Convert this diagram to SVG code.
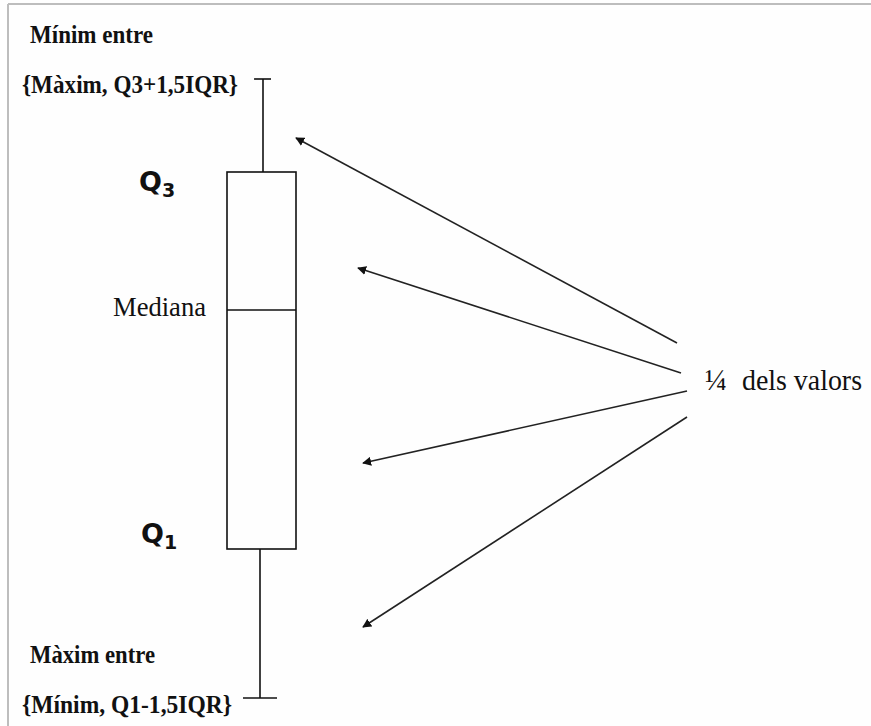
<svg xmlns="http://www.w3.org/2000/svg" width="871" height="726" viewBox="0 0 871 726">
  <style>
    .lbl { font-family: "Liberation Serif", "Times New Roman", serif; fill: #111; }
    .b { font-weight: bold; font-size: 26px; }
    .r { font-size: 27px; }
    .q { font-family: "DejaVu Sans", Verdana, sans-serif; font-weight: bold; fill: #111; }
    .box { fill: none; stroke: #111; stroke-width: 1.6; }
    .conn { stroke: #222; stroke-width: 1.6; fill: none; marker-end: url(#head); }
  </style>
  <defs>
    <marker id="head" viewBox="0 0 10 10" refX="9" refY="5" markerWidth="9" markerHeight="9" markerUnits="userSpaceOnUse" orient="auto">
      <path d="M0,0 L10,5 L0,10 Z" fill="#111"/>
    </marker>
  </defs>

  <!-- page background and frame -->
  <rect x="0" y="0" width="871" height="726" fill="#fefefe"/>
  <line x1="8" y1="4" x2="871" y2="4" stroke="#bdbdbd" stroke-width="2"/>
  <line x1="8" y1="4" x2="8" y2="726" stroke="#bdbdbd" stroke-width="2"/>

  <!-- boxplot -->
  <g id="boxplot">
    <line class="box" x1="254" y1="79" x2="271" y2="79"/>
    <line class="box" x1="263" y1="79" x2="263" y2="172"/>
    <rect class="box" x="227" y="172" width="69" height="377"/>
    <line class="box" x1="227" y1="310" x2="296" y2="310"/>
    <line class="box" x1="260" y1="549" x2="260" y2="698"/>
    <line class="box" x1="243" y1="698" x2="277" y2="698"/>
  </g>

  <g id="upper-label">
    <text class="lbl b" x="30" y="43" textLength="123" lengthAdjust="spacingAndGlyphs">Mínim entre</text>
    <text class="lbl b" x="22" y="93" textLength="216" lengthAdjust="spacingAndGlyphs">{Màxim, Q3+1,5IQR}</text>
  </g>

  <g id="q3-label">
    <text class="q" x="139" y="191" font-size="27">Q<tspan font-size="19" dy="6">3</tspan></text>
  </g>

  <g id="median-label">
    <text class="lbl r" x="113" y="316" textLength="93" lengthAdjust="spacingAndGlyphs">Mediana</text>
  </g>

  <g id="q1-label">
    <text class="q" x="141" y="543" font-size="27">Q<tspan font-size="19" dy="6">1</tspan></text>
  </g>

  <g id="lower-label">
    <text class="lbl b" x="30" y="663" textLength="125" lengthAdjust="spacingAndGlyphs">Màxim entre</text>
    <text class="lbl b" x="22" y="713" textLength="210" lengthAdjust="spacingAndGlyphs">{Mínim, Q1-1,5IQR}</text>
  </g>

  <g id="quarter-label">
    <text class="lbl" font-size="29" x="705" y="390">¼</text>
    <text class="lbl" font-size="30" x="742" y="390" textLength="120" lengthAdjust="spacingAndGlyphs">dels valors</text>
  </g>

  <!-- connectors from the quarter label to each section of the box -->
  <g id="connectors">
    <line class="conn" x1="677" y1="343" x2="296" y2="138"/>
    <line class="conn" x1="681" y1="373" x2="358" y2="268"/>
    <line class="conn" x1="687" y1="391" x2="363" y2="463"/>
    <line class="conn" x1="687" y1="417" x2="363" y2="627"/>
  </g>
</svg>
